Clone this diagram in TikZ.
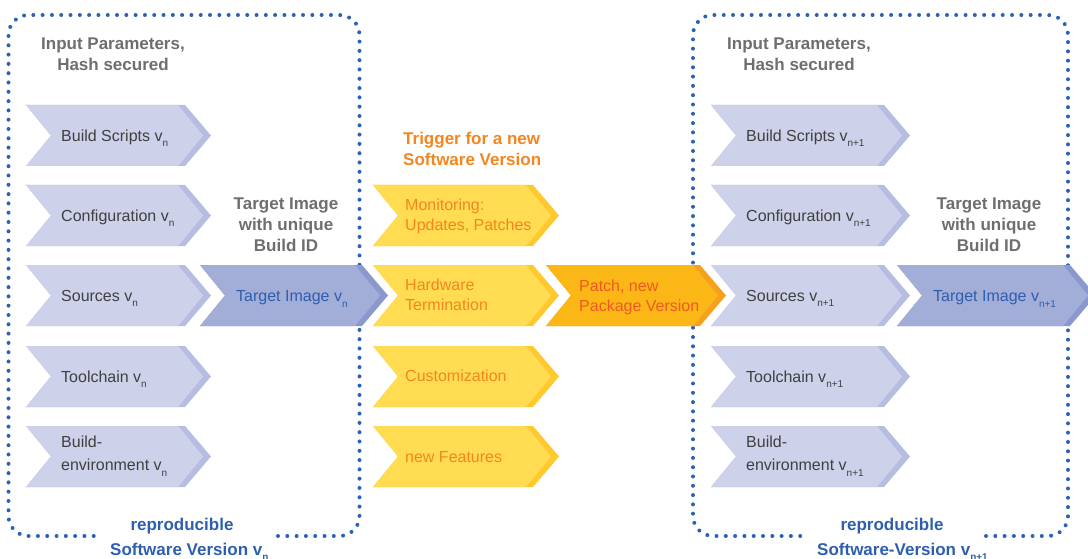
\documentclass[tikz,border=0pt]{standalone}
\usepackage{fontspec}
\setmainfont{Liberation Sans}
\definecolor{lav}{HTML}{CDD1EA}
\definecolor{lavS}{HTML}{B6BDE1}
\definecolor{tgt}{HTML}{A2ADD8}
\definecolor{tgtS}{HTML}{8A98CE}
\definecolor{yel}{HTML}{FFDC52}
\definecolor{yelS}{HTML}{FFC82E}
\definecolor{pat}{HTML}{FBB715}
\definecolor{patS}{HTML}{F6A11D}
\definecolor{dotblue}{HTML}{2B62B6}
\definecolor{txtblue}{HTML}{2E5FAE}
\definecolor{gry}{HTML}{6E6E6E}
\definecolor{dark}{HTML}{404040}
\definecolor{orng}{HTML}{F4861F}
\definecolor{redor}{HTML}{EF5A24}
\newcommand\vx[1]{v\raisebox{-5.5pt}[0pt][0pt]{\fontsize{10}{10}\selectfont #1}}
% #1 left x, #2 top y, #3 body right x, #4 fill, #5 stripe
\newcommand\chev[5]{%
  \fill[#5] (#1,#2) -- (#3,#2) -- (#3+26,#2+30.5) -- (#3,#2+61) -- (#1,#2+61) -- (#1+25,#2+30.5) -- cycle;
  \fill[#4] (#1,#2) -- (#3-7,#2) -- (#3+18,#2+30.5) -- (#3-7,#2+61) -- (#1,#2+61) -- (#1+25,#2+30.5) -- cycle;}
\newcommand\lines[2]{\begin{tabular}[t]{@{}#1@{}}#2\end{tabular}}
\tikzset{
  lbl/.style={anchor=base west, inner sep=0pt, font=\fontsize{16}{20}\selectfont, text=dark},
  ylbl/.style={lbl, text=orng},
  plbl/.style={lbl, text=redor},
  tlbl/.style={lbl, text=txtblue},
  head/.style={anchor=base, inner sep=0pt, font=\fontsize{17}{21}\selectfont\bfseries, text=gry},
  ohead/.style={head, anchor=base west, text=orng},
  bhead/.style={head, text=txtblue},
  dotbox/.style={draw=dotblue, line width=4pt, line cap=round, dash pattern=on 0pt off 9.3pt, rounded corners=20pt},
}
\begin{document}
\begin{tikzpicture}[x=1pt, y=-1pt]
\useasboundingbox (0,0) rectangle (1088,559);
\clip (0,0) rectangle (1088,559);
% dotted frames
\draw[dotbox] (278,536) -- (359.5,536) -- (359.5,15) -- (8.5,15) -- (8.5,536) -- (100,536);
\draw[dotbox] (986,536) -- (1068,536) -- (1068,15) -- (693,15) -- (693,536) -- (808,536);
% left column
\foreach \t in {105,185,265,346,426} {\chev{26}{\t}{185}{lav}{lavS}}
\chev{200}{265}{362}{tgt}{tgtS}
% triggers
\foreach \t in {185,265,346,426} {\chev{373}{\t}{533}{yel}{yelS}}
\chev{546}{265}{700}{pat}{patS}
% right column
\foreach \t in {105,185,265,346,426} {\chev{711}{\t}{884}{lav}{lavS}}
\chev{897}{265}{1070}{tgt}{tgtS}
% left texts
\node[head] (inL) at (113,50) {\lines{c}{Input Parameters,\\Hash secured}};
\node[lbl] (bsL) at (61,141.5) {Build Scripts \vx{n}};
\node[lbl] (cfL) at (61,221.2) {Configuration \vx{n}};
\node[lbl] (srL) at (61,301.5) {Sources \vx{n}};
\node[lbl] (tcL) at (61,382.2) {Toolchain \vx{n}};
\node[lbl] (beL) at (61,447.3) {\lines{l}{Build-\\[3.5pt]environment \vx{n}}};
\node[head] (tiL) at (286,209.3) {\lines{c}{Target Image\\with unique\\Build ID}};
\node[tlbl] (tgL) at (236,301.7) {Target Image \vx{n}};
\node[bhead] (rpL) at (182,530.5) {reproducible};
\node[bhead, anchor=base west] (svL) at (110,555) {Software Version \vx{n}};
% trigger texts
\node[ohead] (trg) at (403,145) {\lines{l}{Trigger for a new\\Software Version}};
\node[ylbl] (mon) at (405,211) {\lines{l}{Monitoring:\\Updates, Patches}};
\node[ylbl] (hw) at (405,290.7) {\lines{l}{Hardware\\Termination}};
\node[ylbl] (cus) at (405,381.5) {Customization};
\node[ylbl] (nf) at (405,462.3) {new Features};
\node[plbl] (pat) at (579,291.7) {\lines{l}{Patch, new\\Package Version}};
% right texts
\node[head] (inR) at (799,50) {\lines{c}{Input Parameters,\\Hash secured}};
\node[lbl] (bsR) at (746,141.5) {Build Scripts \vx{n+1}};
\node[lbl] (cfR) at (746,221.2) {Configuration \vx{n+1}};
\node[lbl] (srR) at (746,301.5) {Sources \vx{n+1}};
\node[lbl] (tcR) at (746,382.2) {Toolchain \vx{n+1}};
\node[lbl] (beR) at (746,447.3) {\lines{l}{Build-\\[3.5pt]environment \vx{n+1}}};
\node[head] (tiR) at (989,209.3) {\lines{c}{Target Image\\with unique\\Build ID}};
\node[tlbl] (tgR) at (933,301.7) {Target Image \vx{n+1}};
\node[bhead] (rpR) at (892,530.5) {reproducible};
\node[bhead, anchor=base west] (svR) at (817,555) {Software-Version \vx{n+1}};
\end{tikzpicture}
\end{document}
